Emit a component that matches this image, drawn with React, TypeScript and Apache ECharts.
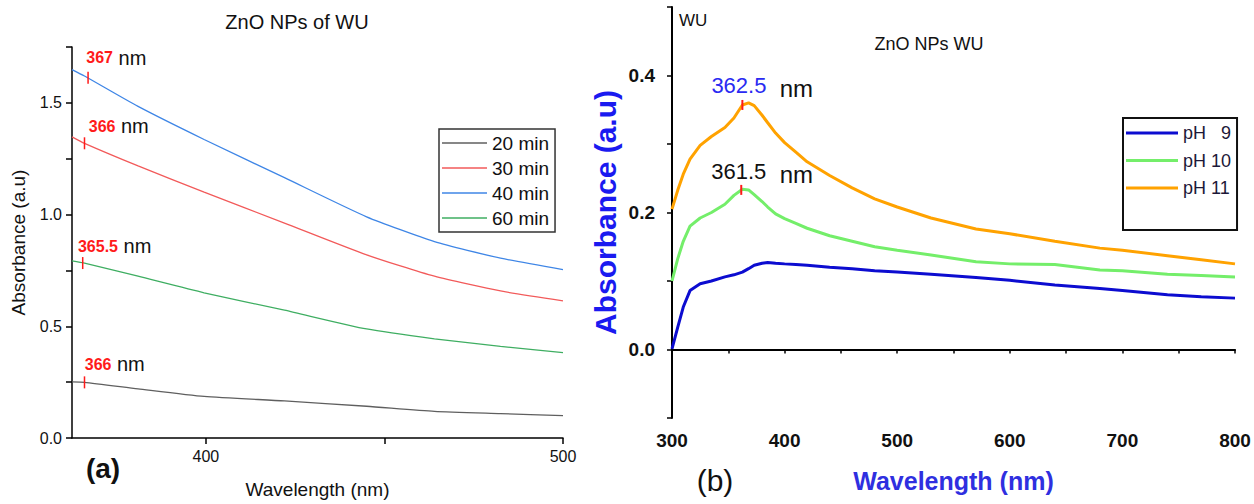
import React, { useEffect, useRef } from "react";
import * as echarts from "echarts";

// ---------- Panel (a) data ----------
const leftWave = [362.5, 366, 381, 399.5, 422, 445, 464, 482.5, 500];
const min20 = [0.251, 0.249, 0.22, 0.186, 0.166, 0.142, 0.119, 0.109, 0.1];
const min30 = [1.348, 1.319, 1.218, 1.1, 0.962, 0.82, 0.724, 0.658, 0.614];
const min40 = [1.649, 1.62, 1.484, 1.336, 1.165, 0.99, 0.879, 0.805, 0.754];
const min60 = [0.793, 0.783, 0.724, 0.65, 0.572, 0.488, 0.444, 0.41, 0.382];
const leftNames = ["20 min", "30 min", "40 min", "60 min"];
const leftPeaks = [
  { wave: 367, value: 1.612, text: "367" },
  { wave: 366, value: 1.319, text: "366" },
  { wave: 365.5, value: 0.783, text: "365.5" },
  { wave: 366, value: 0.249, text: "366" },
];
const leftXTicks = [400, 450, 500];
const leftXLabels = [400, 500];
const leftYTicks = [0, 0.25, 0.5, 0.75, 1, 1.25, 1.5, 1.75];
const leftYLabels = [0, 0.5, 1, 1.5];

// ---------- Panel (b) data ----------
const rightWave = [300, 305, 310, 316, 325, 335, 347, 355, 362.5, 368, 373, 380, 385, 392, 400, 410, 420, 440, 460, 480, 500, 530, 570, 600, 640, 680, 700, 740, 770, 800];
const ph9 = [0.001, 0.032, 0.062, 0.086, 0.096, 0.1, 0.106, 0.109, 0.113, 0.118, 0.123, 0.126, 0.127, 0.126, 0.125, 0.124, 0.123, 0.12, 0.118, 0.115, 0.113, 0.11, 0.105, 0.101, 0.094, 0.089, 0.086, 0.08, 0.077, 0.075];
const ph10 = [0.1, 0.132, 0.158, 0.18, 0.192, 0.2, 0.212, 0.225, 0.234, 0.233, 0.226, 0.216, 0.208, 0.198, 0.191, 0.184, 0.177, 0.166, 0.158, 0.15, 0.145, 0.138, 0.128, 0.125, 0.124, 0.116, 0.115, 0.11, 0.108, 0.106];
const ph11 = [0.205, 0.232, 0.256, 0.278, 0.298, 0.311, 0.324, 0.338, 0.357, 0.36, 0.356, 0.342, 0.331, 0.316, 0.302, 0.288, 0.274, 0.254, 0.236, 0.22, 0.208, 0.192, 0.176, 0.169, 0.158, 0.148, 0.145, 0.137, 0.131, 0.125];
const rightNames = ["pH\u00a0\u00a0\u00a09", "pH\u00a010", "pH\u00a011"];
const rightPeaks = [
  { wave: 362.5, value: 0.357, text: "362.5" },
  { wave: 361.5, value: 0.233, text: "361.5" },
];
const rightXTicks = [300, 350, 400, 450, 500, 550, 600, 650, 700, 750, 800];
const rightXLabels = [300, 400, 500, 600, 700, 800];
const rightYTicks = [-0.1, 0, 0.1, 0.2, 0.3, 0.4, 0.5];
const rightYLabels = [0, 0.2, 0.4];

const FONT = "Liberation Sans, Arial, sans-serif";

const zip = (xs: number[], ys: number[]) => xs.map((x, i) => [x, ys[i]]);

export default function App() {
  const ref = useRef<HTMLDivElement>(null);
  useEffect(() => {
    if (!ref.current) return;
    const chart = echarts.init(ref.current, null, { renderer: "svg" });
    const leftColors = ["#5f5f5f", "#f25a5a", "#3f86e6", "#3fae62"];
    const leftData = [min20, min30, min40, min60];
    const rightColors = ["#0c0cd0", "#74ee6a", "#ffa200"];
    const rightData = [ph9, ph10, ph11];
    const leftLabelPos = [
      [-1, -14],
      [5, -11],
      [-4, -11],
      [1, -12],
    ];
    const rightLabelPos = [
      [-30, -14],
      [-29, -13],
    ];
    const option: any = {
      animation: false,
      backgroundColor: "#ffffff",
      textStyle: { fontFamily: FONT },
      title: [
        {
          text: "ZnO NPs of WU",
          left: 297,
          textAlign: "center",
          top: 12,
          padding: 0,
          textStyle: { fontFamily: FONT, fontSize: 20, fontWeight: "normal", color: "#111" },
        },
        {
          text: "ZnO NPs WU",
          left: 929,
          textAlign: "center",
          top: 35,
          padding: 0,
          textStyle: { fontFamily: FONT, fontSize: 18, fontWeight: "normal", color: "#111" },
        },
      ],
      legend: [
        {
          data: leftNames,
          orient: "vertical",
          left: 439,
          top: 129,
          icon: "rect",
          itemWidth: 45,
          itemHeight: 1.5,
          itemGap: 5,
          padding: [4, 6, 4, 3],
          borderColor: "#333",
          borderWidth: 1.5,
          textStyle: { fontFamily: FONT, fontSize: 19, lineHeight: 20, color: "#111" },
        },
        {
          data: rightNames,
          orient: "vertical",
          left: 1123,
          top: 118,
          icon: "rect",
          itemWidth: 52,
          itemHeight: 3,
          itemGap: 7.5,
          padding: [5, 6, 32, 3],
          borderColor: "#111",
          borderWidth: 2,
          textStyle: { fontFamily: FONT, fontSize: 18, lineHeight: 20, color: "#1c1838" },
        },
      ],
      grid: [
        { left: 72, top: 47, width: 491, height: 395 },
        { left: 672, top: 7, width: 563, height: 411 },
      ],
      xAxis: [
        {
          type: "value",
          gridIndex: 0,
          min: 362.5,
          max: 500,
          axisLine: { show: true, lineStyle: { color: "#000", width: 1.5 } },
          axisTick: { show: true, customValues: leftXTicks, length: 6, lineStyle: { width: 1.5, color: "#000" } },
          axisLabel: { customValues: leftXLabels, fontSize: 16, color: "#111", margin: 10, fontFamily: FONT },
          splitLine: { show: false },
          name: "Wavelength (nm)",
          nameLocation: "middle",
          nameGap: 42,
          nameTextStyle: { fontSize: 19, color: "#111", fontFamily: FONT },
        },
        {
          type: "value",
          gridIndex: 1,
          min: 300,
          max: 800,
          axisLine: { show: true, lineStyle: { color: "#000", width: 2 } },
          axisTick: { show: true, customValues: rightXTicks, length: 4, lineStyle: { width: 1.5, color: "#000" } },
          axisLabel: { customValues: rightXLabels, fontSize: 19, fontWeight: "bold", color: "#111", margin: 13, fontFamily: FONT },
          splitLine: { show: false },
          name: "Wavelength (nm)",
          nameLocation: "middle",
          nameGap: 50,
          nameTextStyle: { fontSize: 25, fontWeight: "bold", color: "#2f2fe0", fontFamily: FONT },
        },
      ],
      yAxis: [
        {
          type: "value",
          gridIndex: 0,
          min: 0,
          max: 1.75,
          axisLine: { show: true, lineStyle: { color: "#000", width: 1.5 } },
          axisTick: { show: true, customValues: leftYTicks, length: 6, lineStyle: { width: 1.5, color: "#000" } },
          axisLabel: {
            customValues: leftYLabels,
            formatter: (v: number) => v.toFixed(1),
            fontSize: 16,
            color: "#111",
            margin: 10,
            fontFamily: FONT,
          },
          splitLine: { show: false },
          name: "Absorbance (a.u)",
          nameLocation: "middle",
          nameGap: 44,
          nameRotate: 90,
          nameTextStyle: { fontSize: 19, color: "#111", fontFamily: FONT },
        },
        {
          type: "value",
          gridIndex: 1,
          min: -0.1,
          max: 0.5,
          axisLine: { show: true, lineStyle: { color: "#000", width: 2 } },
          axisTick: { show: true, customValues: rightYTicks, length: 5, lineStyle: { width: 1.5, color: "#000" } },
          axisLabel: {
            customValues: rightYLabels,
            formatter: (v: number) => v.toFixed(1),
            fontSize: 19,
            fontWeight: "bold",
            color: "#111",
            margin: 17,
            fontFamily: FONT,
          },
          splitLine: { show: false },
          name: "Absorbance (a.u)",
          nameLocation: "middle",
          nameGap: 52,
          nameRotate: 90,
          nameTextStyle: { fontSize: 30, fontWeight: "bold", color: "#1a1af0", fontFamily: FONT },
        },
      ],
      graphic: [
        {
          type: "text",
          x: 103,
          y: 468,
          style: { text: "(a)", fontSize: 28, fontWeight: "bold", fontFamily: FONT, fill: "#111", align: "center", verticalAlign: "middle" },
        },
        {
          type: "text",
          x: 715,
          y: 480,
          style: { text: "(b)", fontSize: 30, fontFamily: FONT, fill: "#111", align: "center", verticalAlign: "middle" },
        },
        {
          type: "text",
          x: 679,
          y: 20,
          style: { text: "WU", fontSize: 17, fontFamily: FONT, fill: "#111", align: "left", verticalAlign: "middle" },
        },
      ],
      series: [
        ...leftNames.map((n, i) => ({
          name: n,
          type: "line",
          xAxisIndex: 0,
          yAxisIndex: 0,
          symbol: "none",
          smooth: 0.2,
          data: zip(leftWave, leftData[i]),
          lineStyle: { color: leftColors[i], width: 1.3 },
          itemStyle: { color: leftColors[i] },
          z: 3,
        })),
        {
          name: "leftPeaks",
          type: "scatter",
          xAxisIndex: 0,
          yAxisIndex: 0,
          symbol: "rect",
          symbolSize: [1.5, 12],
          itemStyle: { color: "#ff1a1a", opacity: 1 },
          z: 5,
          data: leftPeaks.map((p, i) => ({
            value: [p.wave, p.value],
            label: {
              show: true,
              position: leftLabelPos[i],
              align: "left",
              verticalAlign: "middle",
              color: "#111",
              textBorderWidth: 0,
              formatter: `{a|${p.text}}{b|\u00a0nm}`,
              rich: {
                a: { fontSize: 16, fontWeight: "bold", color: "#ff1a1a", fontFamily: FONT, textBorderWidth: 0 },
                b: { fontSize: 20, color: "#111", fontFamily: FONT, textBorderWidth: 0 },
              },
            },
          })),
        },
        ...rightNames.map((n, i) => ({
          name: n,
          type: "line",
          xAxisIndex: 1,
          yAxisIndex: 1,
          symbol: "none",
          data: zip(rightWave, rightData[i]),
          lineStyle: { color: rightColors[i], width: 3 },
          itemStyle: { color: rightColors[i] },
          z: 3,
        })),
        {
          name: "rightPeaks",
          type: "scatter",
          xAxisIndex: 1,
          yAxisIndex: 1,
          symbol: "rect",
          symbolSize: [2, 10],
          itemStyle: { color: "#ff1a1a", opacity: 1 },
          z: 5,
          data: rightPeaks.map((p, i) => ({
            value: [p.wave, p.value],
            label: {
              show: true,
              position: rightLabelPos[i],
              align: "left",
              verticalAlign: "middle",
              color: "#111",
              textBorderWidth: 0,
              formatter: `{a|${p.text}}{b|\u00a0\u00a0nm}`,
              rich: {
                a: { fontSize: 22, color: i === 0 ? "#2a2af2" : "#111", fontFamily: FONT, textBorderWidth: 0 },
                b: { fontSize: 24, color: "#111", fontFamily: FONT, padding: [6, 0, 0, 0], textBorderWidth: 0 },
              },
            },
          })),
        },
      ],
    };
    chart.setOption(option);
    return () => chart.dispose();
  }, []);
  return (
    <div
      ref={ref}
      style={{ position: "fixed", left: 0, top: 0, width: 1254, height: 504, background: "#fff" }}
    />
  );
}
